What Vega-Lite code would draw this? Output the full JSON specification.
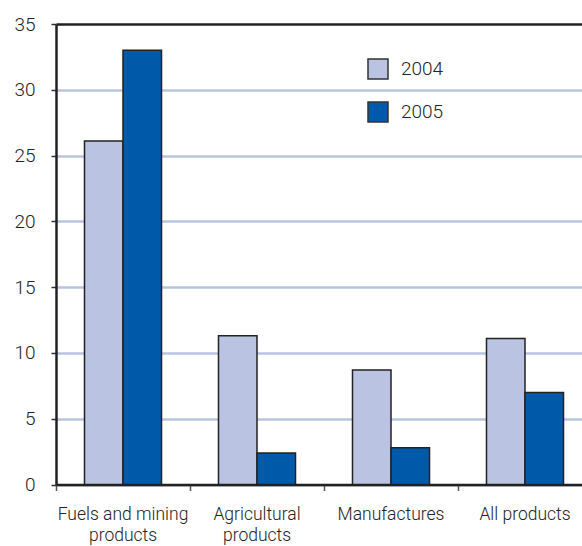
{
  "$schema": "https://vega.github.io/schema/vega-lite/v6.json",
  "autosize": "none",
  "width": 526,
  "height": 460.5,
  "padding": {"left": 56, "top": 24, "right": 0, "bottom": 61.5},
  "background": "white",
  "config": {
    "view": {"stroke": null},
    "font": "Roboto",
    "axis": {"labelFont": "Roboto", "labelFontWeight": 300, "labelColor": "#222"}
  },
  "data": {
    "values": [
      {"category": "Fuels and mining products", "year": "2004", "value": 26.1},
      {"category": "Fuels and mining products", "year": "2005", "value": 33.0},
      {"category": "Agricultural products", "year": "2004", "value": 11.3},
      {"category": "Agricultural products", "year": "2005", "value": 2.4},
      {"category": "Manufactures", "year": "2004", "value": 8.7},
      {"category": "Manufactures", "year": "2005", "value": 2.8},
      {"category": "All products", "year": "2004", "value": 11.1},
      {"category": "All products", "year": "2005", "value": 7.0}
    ]
  },
  "mark": {"type": "bar", "stroke": "#222", "strokeWidth": 1.5},
  "encoding": {
    "x": {
      "field": "category",
      "type": "nominal",
      "sort": null,
      "scale": {"range": [0, 536], "paddingInner": 0, "paddingOuter": 0},
      "axis": {
        "title": null,
        "labelAngle": 0,
        "bandPosition": 0,
        "labelFontSize": 17.5,
        "labelLineHeight": 21,
        "labelPadding": 15,
        "tickSize": 6,
        "tickColor": "#555",
        "tickWidth": 1.5,
        "domainColor": "#222",
        "domainWidth": 2.5,
        "labelExpr": "datum.label == 'Fuels and mining products' ? ['Fuels and mining', 'products'] : datum.label == 'Agricultural products' ? ['Agricultural', 'products'] : datum.label"
      }
    },
    "xOffset": {
      "field": "year",
      "type": "nominal",
      "scale": {"paddingInner": 0, "paddingOuter": 0.74}
    },
    "y": {
      "field": "value",
      "type": "quantitative",
      "scale": {"domain": [0, 35], "nice": false},
      "axis": {
        "title": null,
        "values": [0, 5, 10, 15, 20, 25, 30, 35],
        "labelFontSize": 19,
        "labelPadding": 16,
        "tickSize": 5,
        "tickColor": "#333",
        "tickWidth": 1.5,
        "domainColor": "#222",
        "domainWidth": 2.5,
        "grid": true,
        "gridColor": {"condition": {"test": "datum.value === 35", "value": "#222"}, "value": "#bac4e2"},
        "gridWidth": 2.5
      }
    },
    "color": {
      "field": "year",
      "type": "nominal",
      "scale": {"domain": ["2004", "2005"], "range": ["#bac4e2", "#005aaa"]},
      "legend": {
        "title": null,
        "orient": "none",
        "legendX": 311,
        "legendY": 34,
        "padding": 0,
        "symbolType": "square",
        "symbolSize": 400,
        "symbolStrokeColor": "#333",
        "symbolStrokeWidth": 1.5,
        "labelFontSize": 19,
        "labelFont": "Roboto",
        "labelFontWeight": 300,
        "labelColor": "#222",
        "labelOffset": 12,
        "rowPadding": 17
      }
    }
  }
}
